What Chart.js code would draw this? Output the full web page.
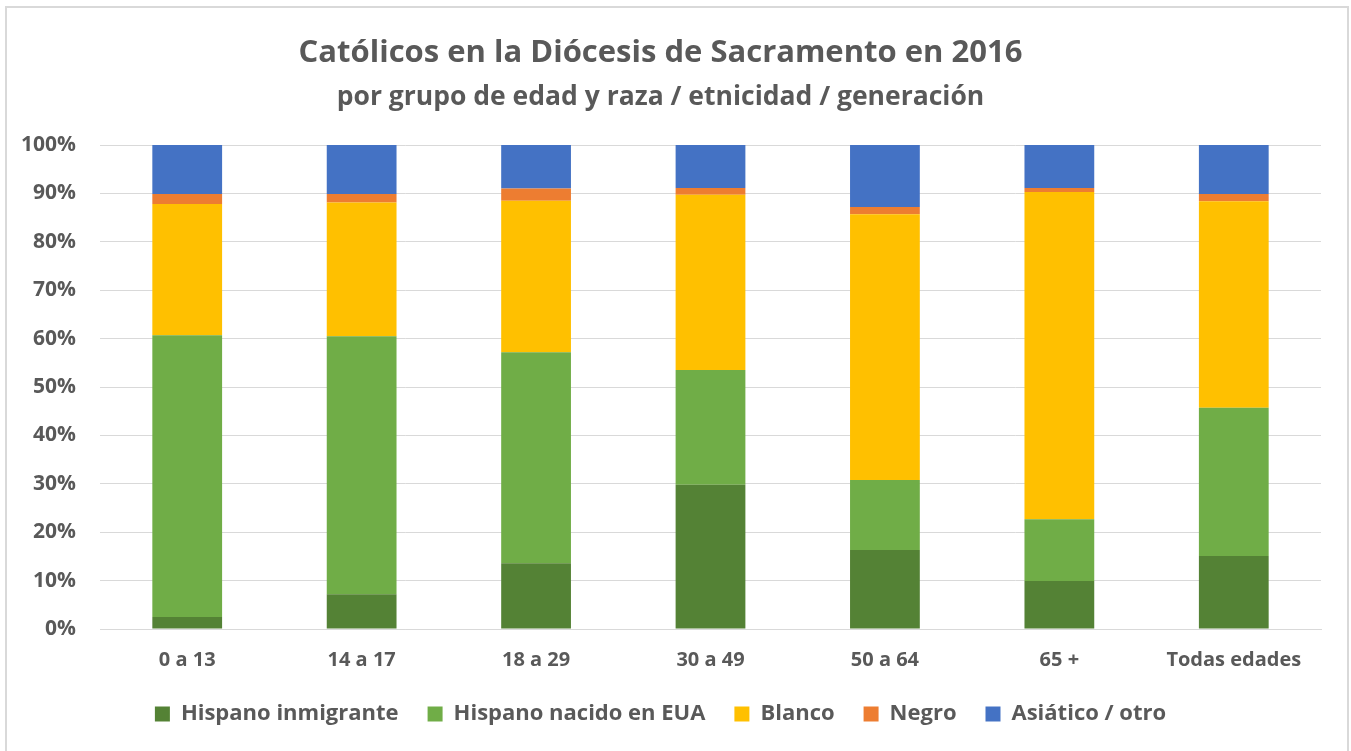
<!DOCTYPE html>
<html>
<head>
<meta charset="utf-8">
<script src="https://cdn.jsdelivr.net/npm/chart.js@4.4.1/dist/chart.umd.min.js"></script>
<style>
  html, body { margin: 0; padding: 0; background: #fff; overflow: hidden; }
  #wrap { position: relative; width: 1351px; height: 751px; }
  /* marco gris del gráfico */
  #marco { position: absolute; left: 5px; top: 6px; width: 1344px; height: 800px; border: 2px solid #d9d9d9; box-sizing: border-box; pointer-events: none; }
</style>
</head>
<body>
<div id="wrap"><canvas id="chart"></canvas><div id="marco"></div></div>
<script>
// Datos (porcentajes por grupo de edad)
const categorias = ['0 a 13', '14 a 17', '18 a 29', '30 a 49', '50 a 64', '65 +', 'Todas edades'];
const hispanoInmigrante = [2.5, 7.2, 13.6, 29.8, 16.3, 9.9, 15.1];
const hispanoNacidoEUA  = [58.2, 53.3, 43.6, 23.7, 14.5, 12.8, 30.6];
const blanco            = [27.1, 27.6, 31.3, 36.2, 54.9, 67.6, 42.7];
const negro             = [2.1, 1.8, 2.5, 1.4, 1.5, 0.8, 1.5];
const asiaticoOtro      = [10.1, 10.1, 9.0, 8.9, 12.8, 8.9, 10.1];

const FONT = "'Open Sans', sans-serif";
const GRIS = '#595959';

const mk = (label, data, color) => ({
  label, data, backgroundColor: color, borderWidth: 0,
  barPercentage: 0.4, categoryPercentage: 1.0
});

new Chart(document.getElementById('chart'), {
  type: 'bar',
  data: {
    labels: categorias,
    datasets: [
      mk('Hispano inmigrante', hispanoInmigrante, '#548235'),
      mk('Hispano nacido en EUA', hispanoNacidoEUA, '#70ad47'),
      mk('Blanco', blanco, '#ffc000'),
      mk('Negro', negro, '#ed7d31'),
      mk('Asiático / otro', asiaticoOtro, '#4472c4')
    ]
  },
  options: {
    responsive: true,
    maintainAspectRatio: false,
    animation: false,
    layout: { padding: { left: 0, right: 30, top: 0, bottom: 16 } },
    plugins: {
      title: {
        display: true,
        text: 'Católicos en la Diócesis de Sacramento en 2016',
        color: GRIS,
        font: { family: FONT, size: 31, weight: 'bold' },
        padding: { top: 35, bottom: 9 }
      },
      subtitle: {
        display: true,
        text: 'por grupo de edad y raza / etnicidad / generación',
        color: GRIS,
        font: { family: FONT, size: 26.5, weight: 'bold' },
        padding: { top: 0, bottom: 32 }
      },
      legend: {
        position: 'bottom',
        labels: {
          color: GRIS,
          font: { family: FONT, size: 22, weight: 'bold' },
          boxWidth: 15, boxHeight: 15,
          padding: 29
        }
      },
      tooltip: { enabled: false }
    },
    scales: {
      x: {
        stacked: true,
        grid: { display: false },
        border: { color: '#d9d9d9', width: 1 },
        ticks: { color: GRIS, font: { family: FONT, size: 20, weight: 'bold' }, padding: 11 },
        afterFit: s => { s.height = 45; }
      },
      y: {
        stacked: true,
        min: 0, max: 100,
        grid: { color: '#d9d9d9', lineWidth: 1, drawTicks: false },
        border: { display: false },
        ticks: {
          stepSize: 10,
          padding: 24,
          color: GRIS,
          font: { family: FONT, size: 21, weight: 'bold' },
          callback: v => v + '%'
        },
        afterFit: s => { s.width = 100; }
      }
    }
  }
});
</script>
</body>
</html>
